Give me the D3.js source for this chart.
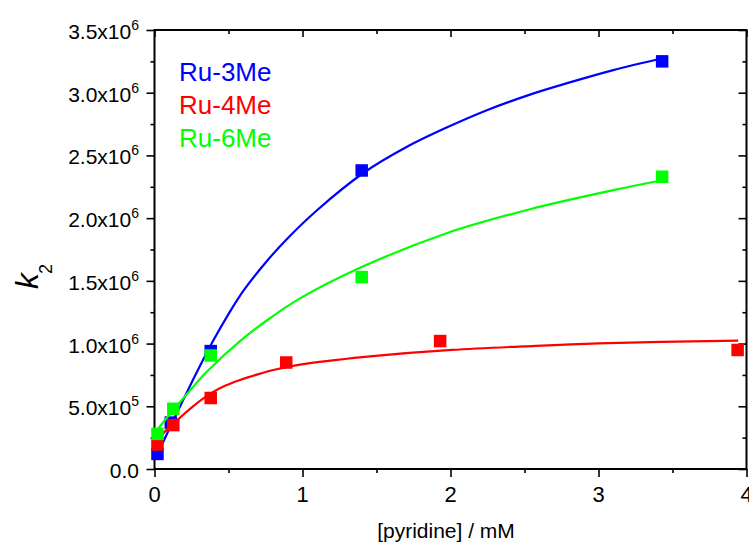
<!DOCTYPE html>
<html>
<head>
<meta charset="utf-8">
<script src="https://cdn.jsdelivr.net/npm/d3@7"></script>
<style>
  html, body { margin: 0; padding: 0; background: #fff; }
  svg { display: block; font-family: "Liberation Sans", Arial, sans-serif; }
</style>
</head>
<body>
<svg id="chart" width="749" height="546"></svg>
<script>
// ---- data ----
const seriesNames = ["Ru-3Me", "Ru-4Me", "Ru-6Me"];
const seriesColors = ["#0000ff", "#ff0000", "#00ff00"];

// measured points (x in mM, y = k2)
const ru3X = [0.02, 0.11, 0.38, 1.40, 3.43];
const ru3Y = [1.2e5, 3.7e5, 9.4e5, 2.38e6, 3.25e6];
const ru4X = [0.02, 0.127, 0.38, 0.89, 1.93, 3.94];
const ru4Y = [1.95e5, 3.5e5, 5.66e5, 8.49e5, 1.02e6, 9.49e5];
const ru6X = [0.02, 0.127, 0.38, 1.40, 3.43];
const ru6Y = [2.8e5, 4.8e5, 9.05e5, 1.53e6, 2.33e6];

// fitted curves
const fit3X = [0.01, 0.1, 0.2, 0.3, 0.4, 0.5, 0.6, 0.75, 0.9, 1.1, 1.411, 1.7, 1.974, 2.25, 2.537, 2.8, 3.1, 3.43];
const fit3Y = [0.09e6, 0.32e6, 0.565e6, 0.805e6, 1.03e6, 1.235e6, 1.42e6, 1.645e6, 1.84e6, 2.065e6, 2.36e6, 2.565e6, 2.722e6, 2.862e6, 2.985e6, 3.08e6, 3.18e6, 3.275e6];
const fit4X = [0.01, 0.06, 0.127, 0.25, 0.38, 0.48, 0.578, 0.69, 0.803, 0.983, 1.22, 1.456, 2.008, 2.5, 3.0, 3.944];
const fit4Y = [0.20e6, 0.285e6, 0.36e6, 0.49e6, 0.603e6, 0.665e6, 0.71e6, 0.752e6, 0.789e6, 0.832e6, 0.868e6, 0.898e6, 0.949e6, 0.978e6, 1.002e6, 1.023e6];
const fit6X = [0.01, 0.127, 0.25, 0.353, 0.578, 0.78, 0.983, 1.4, 1.974, 2.537, 3.10, 3.43];
const fit6Y = [0.30e6, 0.47e6, 0.64e6, 0.775e6, 1.02e6, 1.202e6, 1.36e6, 1.61e6, 1.88e6, 2.071e6, 2.223e6, 2.302e6];

// axes ticks
const xMajor = [0, 1, 2, 3, 4];
const xMinor = [0.5, 1.5, 2.5, 3.5];
const xTickLabels = ["0", "1", "2", "3", "4"];
const yMajor = [0, 5e5, 1e6, 1.5e6, 2e6, 2.5e6, 3e6, 3.5e6];
const yMinor = [2.5e5, 7.5e5, 1.25e6, 1.75e6, 2.25e6, 2.75e6, 3.25e6];
const yTickMantissa = ["0.0", "5.0x10", "1.0x10", "1.5x10", "2.0x10", "2.5x10", "3.0x10", "3.5x10"];
const yTickExp = ["", "5", "6", "6", "6", "6", "6", "6"];
const xTitle = "[pyridine] / mM";

// ---- layout ----
const svg = d3.select("#chart");
const pLeft = 154.5, pRight = 746.5, pTop = 30, pBottom = 469;
const x = d3.scaleLinear().domain([0, 4]).range([pLeft, pRight]);
const y = d3.scaleLinear().domain([0, 3.5e6]).range([pBottom, pTop]);

function styleAxis(g) {
  g.select(".domain").remove();
  g.selectAll(".tick line").attr("stroke", "#000").attr("stroke-width", 1.6);
  g.selectAll(".tick text").remove();
}

// bottom
const gb = svg.append("g").attr("transform", `translate(0,${pBottom})`);
gb.call(d3.axisBottom(x).tickValues(xMajor).tickSize(8).tickFormat(""));
styleAxis(gb);
const gbm = svg.append("g").attr("transform", `translate(0,${pBottom})`);
gbm.call(d3.axisBottom(x).tickValues(xMinor).tickSize(4).tickFormat(""));
styleAxis(gbm);
xMajor.forEach((v, i) => {
  svg.append("text").attr("x", x(v)).attr("y", pBottom + 33)
    .attr("text-anchor", "middle").attr("font-size", 22).text(xTickLabels[i]);
});

// top (inward)
const gt = svg.append("g").attr("transform", `translate(0,${pTop})`);
gt.call(d3.axisTop(x).tickValues(xMajor).tickSize(-7).tickFormat(""));
styleAxis(gt);
const gtm = svg.append("g").attr("transform", `translate(0,${pTop})`);
gtm.call(d3.axisTop(x).tickValues(xMinor).tickSize(-4).tickFormat(""));
styleAxis(gtm);

// left
const gl = svg.append("g").attr("transform", `translate(${pLeft},0)`);
gl.call(d3.axisLeft(y).tickValues(yMajor).tickSize(8).tickFormat(""));
styleAxis(gl);
const glm = svg.append("g").attr("transform", `translate(${pLeft},0)`);
glm.call(d3.axisLeft(y).tickValues(yMinor).tickSize(4).tickFormat(""));
styleAxis(glm);
yMajor.forEach((v, i) => {
  const t = svg.append("text").attr("x", 139).attr("y", y(v) + 9)
    .attr("text-anchor", "end").attr("font-size", 21);
  t.append("tspan").text(yTickMantissa[i]);
  if (yTickExp[i]) {
    t.append("tspan").attr("font-size", 14).attr("dy", -9).text(yTickExp[i]);
  }
});

// right (inward)
const gr = svg.append("g").attr("transform", `translate(${pRight},0)`);
gr.call(d3.axisRight(y).tickValues(yMajor).tickSize(-8).tickFormat(""));
styleAxis(gr);
const grm = svg.append("g").attr("transform", `translate(${pRight},0)`);
grm.call(d3.axisRight(y).tickValues(yMinor).tickSize(-4).tickFormat(""));
styleAxis(grm);

// frame
svg.append("rect").attr("x", pLeft).attr("y", pTop)
  .attr("width", pRight - pLeft).attr("height", pBottom - pTop)
  .attr("fill", "none").attr("stroke", "#000").attr("stroke-width", 2);

// ---- series ----
const line = d3.line().x(d => x(d[0])).y(d => y(d[1])).curve(d3.curveCatmullRom.alpha(0.5));
const fits = [d3.zip(fit3X, fit3Y), d3.zip(fit4X, fit4Y), d3.zip(fit6X, fit6Y)];
const pts = [d3.zip(ru3X, ru3Y), d3.zip(ru4X, ru4Y), d3.zip(ru6X, ru6Y)];
const ms = 12.5;

[0, 1, 2].forEach(i => {
  svg.append("g").selectAll("rect").data(pts[i]).join("rect")
    .attr("x", d => x(d[0]) - ms / 2).attr("y", d => y(d[1]) - ms / 2)
    .attr("width", ms).attr("height", ms).attr("fill", seriesColors[i]);
  svg.append("path").datum(fits[i]).attr("d", line)
    .attr("fill", "none").attr("stroke", seriesColors[i]).attr("stroke-width", 2.2);
});

// ---- legend ----
seriesNames.forEach((n, i) => {
  svg.append("text").attr("x", 179).attr("y", 81 + i * 33)
    .attr("font-size", 26).attr("fill", seriesColors[i]).text(n);
});

// ---- axis titles ----
svg.append("text").attr("x", 446).attr("y", 538).attr("text-anchor", "middle")
  .attr("font-size", 21).text(xTitle);

const yt = svg.append("text").attr("transform", "translate(38,289) rotate(-90)")
  .attr("font-size", 32);
yt.append("tspan").attr("font-style", "italic").text("k");
yt.append("tspan").attr("font-size", 18).attr("dy", 14).attr("dx", -1).text("2");
</script>
</body>
</html>
